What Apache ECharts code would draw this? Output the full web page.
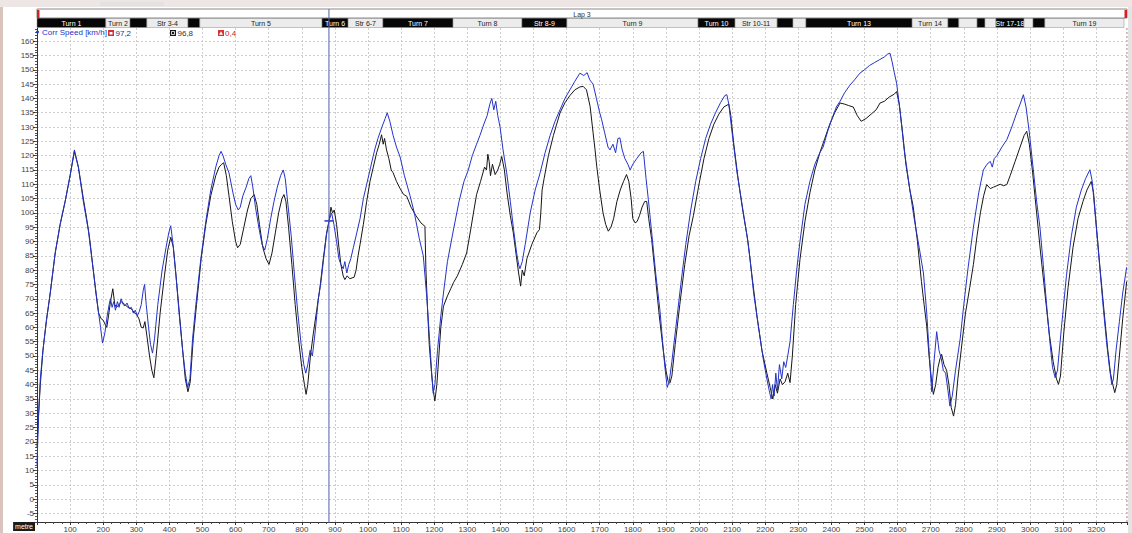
<!DOCTYPE html>
<html>
<head>
<meta charset="utf-8">
<title>Corr Speed – Lap 3</title>
<script src="https://cdn.jsdelivr.net/npm/echarts@6/dist/echarts.min.js"></script>
<style>
  html, body { margin: 0; padding: 0; background: #ffffff; }
  #chart { width: 1132px; height: 533px; }
</style>
</head>
<body>
<div id="chart"></div>
<script>
// Current lap speed trace: [distance m, speed km/h]
const lapPoints = [
  [0,12],[5,30],[10,42],[18,52],[28,62],[40,72],[55,86],[70,96],[85,104],[100,113],[113,122],
  [125,116],[140,104],[155,94],[170,80],[185,66],[192,60],[198,54.5],[205,58],[212,64],[218,68],
  [222,70],[227,67],[232,69],[237,66],[243,69],[248,67],[254,70],[260,68],[266,67.5],[272,68.5],
  [279,66.5],[285,67],[291,65],[297,66],[303,64],[309,65.5],[315,68],[321,73],[325,75],[330,68],
  [337,60],[343,54],[349,51],[355,56],[365,68],[378,80],[390,88],[398,93],[404,95.5],[410,90],
  [420,78],[430,64],[440,52],[448,44],[455,39],[462,42],[470,56],[480,68],[495,84],[510,97],
  [525,108],[540,116],[550,120],[556,121.5],[562,120],[570,117],[580,114],[592,107],[600,103],
  [608,101],[614,102],[622,106],[632,109],[640,112],[646,113],[652,109],[660,102],[670,95],
  [680,89],[688,87],[696,91],[706,98],[716,104],[726,109],[736,113],[744,115],[750,112],[758,103],
  [768,92],[778,78],[788,65],[798,54],[806,47],[812,44],[818,47],[825,52],[832,50],[840,58],
  [850,70],[858,76],[866,84],[874,92],[882,97.2],[890,100],[897,96],[905,90],[912,84],[918,82],
  [925,80.5],[930,83],[936,79],[942,82],[948,84],[956,88],[966,93],[976,98],[986,105],[996,110],
  [1008,116],[1020,122],[1030,126],[1042,130],[1052,133],[1058,135],[1066,132],[1076,127],
  [1086,123],[1097,119.5],[1110,113],[1127,106],[1140,100],[1155,91],[1167,85],[1178,70],
  [1187,54],[1193,43],[1197,37],[1202,40],[1210,52],[1220,64],[1228,72],[1240,83],[1258,94],
  [1275,104],[1290,111],[1303,115],[1315,120],[1328,124],[1338,127],[1350,131],[1360,134],
  [1368,138],[1374,140],[1380,136],[1386,139],[1392,134],[1399,130],[1408,122],[1419,114],
  [1430,104],[1440,94],[1449,86],[1455,82],[1459,80.5],[1466,83],[1475,89],[1490,100],[1505,108],
  [1520,114],[1535,121],[1550,127],[1565,132],[1580,136],[1595,140],[1610,143],[1625,146],
  [1640,148.8],[1652,148],[1662,149],[1670,146.5],[1680,145],[1690,140],[1700,135],[1706,132.5],
  [1715,128],[1725,123],[1731,122],[1740,124],[1748,121],[1755,126],[1761,126.2],[1768,122],
  [1776,119],[1785,117],[1792,115],[1800,117],[1812,119],[1825,121],[1832,121.5],[1840,112],
  [1847,104.6],[1858,92],[1870,78],[1882,66],[1890,55],[1897,46],[1904,39],[1910,41],[1918,48],
  [1930,60],[1945,75],[1960,89],[1975,101],[1990,111],[2005,119],[2020,126],[2035,131],[2050,135],
  [2065,138.5],[2078,141],[2084,141.3],[2090,138],[2100,128],[2115,114],[2130,103],[2145,92],
  [2154,84],[2165,72],[2180,60],[2194,49],[2205,42],[2212,38],[2218,35],[2222,40],[2227,36],
  [2232,44],[2237,38],[2243,47],[2250,42],[2256,48],[2262,46],[2268,50],[2275,55],[2285,68],
  [2295,80],[2305,90],[2320,103],[2335,111],[2350,117],[2365,121],[2375,123],[2390,129],[2405,134],
  [2415,137],[2426,139],[2440,142],[2455,144.5],[2470,146.5],[2486,148.8],[2500,150],[2515,151.5],
  [2530,152.5],[2545,153.5],[2560,154.5],[2570,155.5],[2577,155.8],[2583,153],[2590,149],
  [2597,145.3],[2608,135],[2620,122],[2637,108],[2650,98],[2665,88],[2678,79],[2688,65],[2696,50],
  [2703,37.5],[2710,48],[2718,58.5],[2725,52],[2732,49],[2738,45],[2745,44],[2752,38],[2758,32.5],
  [2765,36],[2775,45],[2789,56],[2800,68],[2812,80],[2829,95],[2845,107],[2859,115],[2870,117],
  [2880,118],[2886,116],[2892,119],[2900,120],[2915,123],[2930,125.6],[2945,130],[2960,135],
  [2970,138],[2980,141.3],[2988,137],[2998,128],[3010,115],[3020,104],[3030,95],[3040,82],
  [3050,68],[3060,55],[3068,46],[3076,42.4],[3083,45],[3095,60],[3110,78],[3125,92],[3140,102],
  [3155,108],[3168,112],[3181,115.1],[3188,111],[3198,98],[3210,82],[3222,66],[3232,54],[3240,46],
  [3247,40],[3252,42],[3260,52],[3270,62],[3280,72],[3292,81]
];

// Reference lap speed trace: [distance m, speed km/h]
const refPoints = [
  [0,18],[5,30],[10,40],[18,52],[28,62],[40,72],[55,86],[70,96],[85,104],[100,113],[113,121.5],
  [125,116],[140,105],[150,98],[158,92],[168,82],[178,72],[186,65],[194,63],[200,62.5],[206,61],
  [211,60],[216,64],[222,69],[229,73.5],[235,68],[240,67],[248,68],[256,69],[265,68],[275,67],
  [285,66.5],[295,65],[301,64.5],[308,63],[315,60],[321,59.8],[326,62],[332,57],[340,50],[347,45],
  [353,42.4],[360,50],[372,65],[385,78],[395,87],[404,91.5],[412,88],[420,78],[430,65],[440,52],
  [448,42],[456,37.5],[463,41],[472,56],[482,68],[496,84],[510,96],[525,106],[540,113],[550,116],
  [558,117],[564,117.5],[572,113],[580,106],[590,97],[600,90],[606,87.8],[614,89],[625,95],
  [636,101],[646,105],[656,106.4],[664,103],[672,96],[682,88],[692,84],[701,82],[710,86],[720,93],
  [730,100],[740,105],[746,106.4],[752,104],[760,95],[770,82],[780,68],[790,56],[800,46],[808,40],
  [813,36.6],[818,40],[826,50],[835,58],[845,66],[855,74],[865,84],[875,93],[882,96.8],[888,102],
  [893,100],[898,101],[905,96],[912,88],[918,82],[925,78],[930,76.7],[937,78],[945,77],[952,77.3],
  [958,77.5],[964,80],[970,85],[976,89],[986,96],[996,104],[1006,111],[1016,116],[1026,121],
  [1034,124],[1041,127.3],[1046,124],[1050,126],[1056,122],[1063,119],[1070,115],[1076,114],
  [1086,111],[1097,108.5],[1107,106.5],[1117,105.8],[1130,102],[1145,99],[1160,96.5],[1172,95.3],
  [1175,80],[1180,66],[1185,54],[1192,44],[1197,38],[1202,34.3],[1208,40],[1214,50],[1220,60],
  [1228,67.4],[1240,71],[1250,73.5],[1258,75.6],[1270,78],[1285,82],[1298,86],[1310,94],[1320,101],
  [1328,106.4],[1340,111],[1352,116],[1358,115],[1362,120.5],[1366,118],[1370,113],[1376,117],
  [1384,113.4],[1392,115],[1398,117],[1404,119.7],[1412,115],[1420,107],[1430,99],[1439,93],
  [1448,85],[1455,79],[1461,74.4],[1466,80],[1472,78],[1480,84],[1495,89],[1510,93],[1518,94.2],
  [1522,100],[1526,108],[1532,112],[1545,120],[1560,127],[1570,131],[1580,134.9],[1595,138.5],
  [1610,141],[1625,143],[1640,144],[1650,144.2],[1660,143],[1671,137.2],[1680,128],[1686,122],
  [1691,116.3],[1700,108],[1710,100],[1718,96],[1726,93.6],[1734,95],[1742,98],[1752,104],
  [1762,108],[1772,111],[1781,113.4],[1788,111],[1795,105],[1800,98],[1807,96.5],[1813,97],
  [1820,99],[1828,102],[1836,104],[1842,104],[1848,98],[1857,90.7],[1868,78],[1880,64],[1892,52],
  [1900,45],[1907,41],[1912,40.5],[1918,43],[1928,54],[1942,68],[1957,82],[1970,92],[1983,99],
  [2000,110],[2015,119],[2030,126],[2045,131],[2060,134.5],[2075,137],[2090,138],[2096,134],
  [2105,124],[2118,112],[2132,101],[2148,90],[2160,78],[2175,64],[2190,52],[2205,44],[2215,39],
  [2223,35],[2230,40],[2237,37],[2245,42],[2252,40],[2260,41],[2268,44],[2275,40.7],[2282,50],
  [2292,68],[2305,83.7],[2320,97],[2335,107],[2350,115],[2365,121],[2380,126],[2395,131],[2410,135],
  [2426,138.4],[2440,138],[2452,137.5],[2466,137],[2478,134],[2490,132],[2505,133],[2520,134.5],
  [2535,136],[2547,138.4],[2560,139],[2575,140.5],[2590,141.5],[2597,142.4],[2605,138],[2615,128],
  [2625,117],[2637,108],[2647,102.3],[2660,90],[2672,76],[2680,68],[2688,60.4],[2695,50],[2702,42],
  [2708,36.6],[2715,40],[2722,46],[2728,49],[2733,50.6],[2740,47],[2748,45],[2755,40],[2762,32],
  [2769,29],[2775,33],[2782,42],[2792,52],[2805,65],[2818,74],[2829,82],[2840,92],[2850,100],
  [2860,106],[2869,109.9],[2880,108.5],[2890,109],[2900,109.5],[2910,110],[2920,109.5],[2930,109.9],
  [2940,113],[2955,118],[2970,123],[2982,127],[2990,128.5],[2998,124],[3008,114],[3020,100],
  [3032,86],[3045,72],[3058,58],[3070,48],[3080,42],[3086,40.1],[3092,43],[3102,58],[3115,74],
  [3130,88],[3145,98],[3160,104],[3172,108],[3185,111],[3192,107],[3200,96],[3212,80],[3225,64],
  [3235,52],[3243,44],[3250,40],[3256,37.2],[3262,40],[3270,50],[3280,63],[3292,76]
];

// Track sections along the lap (metres)
const segStart = [0, 208, 281, 332, 456, 492, 861, 940, 1045, 1257, 1465, 1601, 1997, 2109, 2236, 2284, 2323, 2644, 2752, 2785, 2840, 2864, 2897, 2982, 3009, 3045];
const segEnd   = [208, 281, 332, 456, 492, 861, 940, 1045, 1257, 1465, 1601, 1997, 2109, 2236, 2284, 2323, 2644, 2752, 2785, 2840, 2864, 2897, 2982, 3009, 3045, 3284];
const segName  = ['Turn 1', 'Turn 2', '', 'Str 3-4', '', 'Turn 5', 'Turn 6', 'Str 6-7', 'Turn 7', 'Turn 8', 'Str 8-9', 'Turn 9', 'Turn 10', 'Str 10-11', '', '', 'Turn 13', 'Turn 14', '', '', '', '', 'Str 17-18', '', '', 'Turn 19'];
const segDark  = [1, 0, 1, 0, 1, 0, 1, 0, 1, 0, 1, 0, 1, 0, 1, 0, 1, 0, 1, 0, 1, 0, 1, 0, 1, 0];

const lapName = 'Lap 3';
const lapLength = 3293;
const cursorDist = 882;

// Axis tick values
const yTickValues = [-5, 0, 5, 10, 15, 20, 25, 30, 35, 40, 45, 50, 55, 60, 65, 70, 75, 80, 85, 90, 95, 100, 105, 110, 115, 120, 125, 130, 135, 140, 145, 150, 155, 160];
const yMin = -8, yMax = 164.6;
const yMinorValues = [];
for (let v = -8; v <= 164; v++) yMinorValues.push(v);

const FONT = '"Liberation Sans", Arial, sans-serif';
const BLUE = '#2433c8';

const valueAt = (pts, d) => pts.find(p => p[0] === d)[1];
const lapAtCursor = valueAt(lapPoints, cursorDist);
const refAtCursor = valueAt(refPoints, cursorDist);
const fmt = v => v.toFixed(1).replace('.', ',');

const segData = segStart.map((s, i) => [s, segEnd[i], segDark[i]]);

const chart = echarts.init(document.getElementById('chart'), null, { renderer: 'svg' });

const hiddenX = idx => ({ type: 'value', gridIndex: idx, min: 0, max: lapLength, show: false });
const hiddenY = idx => ({ type: 'value', gridIndex: idx, min: 0, max: 1, show: false });

chart.setOption({
  animation: false,
  textStyle: { fontFamily: FONT },
  grid: [
    { left: 37, right: 5, top: 28, bottom: 10 },          // speed plot
    { left: 37, right: 5, top: 18, height: 9.5 },         // track sections
    { left: 37, right: 5, top: 9, height: 9 },            // lap bar
    { left: 37, right: 5, top: 9, bottom: 10 }            // cursor
  ],
  legend: {
    left: 36, top: 28, padding: 0,
    itemWidth: 3, itemHeight: 3, itemGap: 4,
    data: [{ name: 'Corr Speed [km/h]', icon: 'circle' }],
    textStyle: { color: BLUE, fontSize: 8, fontFamily: FONT, padding: [0, 0, 0, -2] }
  },
  xAxis: [
    {
      type: 'value', gridIndex: 0, min: 0, max: lapLength, interval: 100,
      axisLine: { onZero: false, lineStyle: { color: '#333', width: 1 } },
      axisTick: { length: 3, lineStyle: { color: '#333' } },
      minorTick: { show: true, splitNumber: 4, length: 2, lineStyle: { color: '#444' } },
      axisLabel: { fontSize: 8, color: '#444', margin: 3, showMinLabel: false, showMaxLabel: false,
                   formatter: v => String(v) },
      splitLine: { lineStyle: { color: '#cdcdcd', type: [2, 2], width: 1 } },
      name: 'metre', nameLocation: 'start', nameGap: 2,
      nameTextStyle: {
        color: '#fff', backgroundColor: '#1c1c1c', fontSize: 7, fontFamily: FONT,
        padding: [1, 2, 1, 2], align: 'right', verticalAlign: 'top'
      }
    },
    hiddenX(1), hiddenX(2), hiddenX(3)
  ],
  yAxis: [
    {
      type: 'value', gridIndex: 0, min: yMin, max: yMax,
      axisLine: { show: true, onZero: false, lineStyle: { color: '#333', width: 1 } },
      axisTick: { show: true, customValues: yTickValues, length: 4, lineStyle: { color: '#333' } },
      axisLabel: { customValues: yTickValues, fontSize: 8, color: '#444', margin: 3,
                   formatter: v => String(v) },
      splitLine: { show: true, lineStyle: { color: '#cdcdcd', type: [2, 2], width: 1 } }
    },
    {
      type: 'value', gridIndex: 0, min: yMin, max: yMax, position: 'left', offset: 0,
      axisLine: { show: false, onZero: false },
      axisTick: { show: true, customValues: yMinorValues, length: 2, lineStyle: { color: '#555' } },
      axisLabel: { show: false },
      splitLine: { show: false }
    },
    hiddenY(1), hiddenY(2), hiddenY(3)
  ],
  series: [
    {
      name: 'Reference lap', type: 'line', xAxisIndex: 0, yAxisIndex: 0,
      data: refPoints, showSymbol: false, z: 2,
      lineStyle: { color: '#161616', width: 1 }, itemStyle: { color: '#161616' }
    },
    {
      name: 'Corr Speed [km/h]', type: 'line', xAxisIndex: 0, yAxisIndex: 0,
      data: lapPoints, showSymbol: false, z: 3,
      lineStyle: { color: BLUE, width: 1 }, itemStyle: { color: BLUE },
      markPoint: {
        silent: true, symbol: 'rect', symbolSize: [9, 1.5],
        itemStyle: { color: BLUE }, label: { show: false },
        data: [{ coord: [cursorDist, lapAtCursor] }]
      }
    },
    {
      type: 'custom', xAxisIndex: 1, yAxisIndex: 2, z: 5, silent: true,
      data: segData,
      renderItem: (params, api) => {
        const p0 = api.coord([api.value(0), 1]);
        const p1 = api.coord([api.value(1), 0]);
        const dark = api.value(2) === 1;
        return {
          type: 'group',
          children: [
            { type: 'rect', shape: { x: p0[0], y: p0[1], width: p1[0] - p0[0], height: p1[1] - p0[1] },
              style: { fill: dark ? '#070707' : '#ececec', stroke: '#8c8c8c', lineWidth: 0.5 } },
            { type: 'text',
              style: { text: segName[params.dataIndex], x: (p0[0] + p1[0]) / 2, y: (p0[1] + p1[1]) / 2 + 0.5,
                       align: 'center', verticalAlign: 'middle', fill: dark ? '#ffffff' : '#222222',
                       fontSize: 7, fontFamily: FONT } }
          ]
        };
      }
    },
    {
      type: 'custom', xAxisIndex: 2, yAxisIndex: 3, z: 5, silent: true,
      data: [[0, lapLength]],
      renderItem: (params, api) => {
        const p0 = api.coord([api.value(0), 1]);
        const p1 = api.coord([api.value(1), 0]);
        const h = p1[1] - p0[1];
        return {
          type: 'group',
          children: [
            { type: 'rect', shape: { x: p0[0], y: p0[1], width: p1[0] - p0[0], height: h },
              style: { fill: '#ffffff', stroke: '#6a6a6a', lineWidth: 0.8 } },
            { type: 'rect', shape: { x: p0[0], y: p0[1] + 1, width: 2.5, height: h - 1 }, style: { fill: '#d42222' } },
            { type: 'rect', shape: { x: p1[0] - 2.5, y: p0[1] + 1, width: 2.5, height: h - 1 }, style: { fill: '#d42222' } },
            { type: 'text',
              style: { text: lapName, x: (p0[0] + p1[0]) / 2, y: p0[1] + h / 2 + 0.5, align: 'center',
                       verticalAlign: 'middle', fill: '#333', fontSize: 7, fontFamily: FONT } }
          ]
        };
      }
    },
    {
      type: 'custom', xAxisIndex: 3, yAxisIndex: 4, z: 6, silent: true,
      data: [[cursorDist]],
      renderItem: (params, api) => {
        const top = api.coord([api.value(0), 1]);
        const bottom = api.coord([api.value(0), 0]);
        return {
          type: 'line',
          shape: { x1: top[0], y1: top[1], x2: bottom[0], y2: bottom[1] },
          style: { stroke: '#4f5fae', lineWidth: 1 }
        };
      }
    }
  ],
  graphic: [
    // window frame
    { type: 'rect', left: 0, top: 0, shape: { width: 1132, height: 7 }, style: { fill: '#ede6e4' }, silent: true },
    { type: 'rect', left: 100, top: 2, shape: { width: 64, height: 4 }, style: { fill: '#e2e2e2' }, silent: true },
    { type: 'rect', left: 0, top: 7, shape: { width: 3, height: 526 }, style: { fill: '#d9c4bd' }, silent: true },
    { type: 'rect', left: 1128, top: 7, shape: { width: 4, height: 526 }, style: { fill: '#e4e4e4' }, silent: true },
    { type: 'line', shape: { x1: 1127, y1: 28, x2: 1127, y2: 523 },
      style: { stroke: '#b46a6a', lineWidth: 1, lineDash: [2, 2] }, silent: true },
    // cursor readouts
    { type: 'group', left: 108, top: 29, silent: true, children: [
      { type: 'rect', shape: { x: 0, y: 0, width: 6, height: 6 }, style: { fill: '#d63030' } },
      { type: 'rect', shape: { x: 1.5, y: 2, width: 3, height: 2.5 }, style: { fill: '#ffffff' } },
      { type: 'text', x: 7.5, y: 3, style: { text: fmt(lapAtCursor), fill: '#2d2f8a', fontSize: 8, fontFamily: FONT, verticalAlign: 'middle' } }
    ] },
    { type: 'group', left: 169, top: 29, silent: true, children: [
      { type: 'rect', shape: { x: 0, y: 0, width: 6, height: 6 }, style: { fill: '#1a1a1a' } },
      { type: 'rect', shape: { x: 1.5, y: 1.5, width: 3, height: 3 }, style: { fill: 'none', stroke: '#ffffff', lineWidth: 0.8 } },
      { type: 'text', x: 7.5, y: 3, style: { text: fmt(refAtCursor), fill: '#333333', fontSize: 8, fontFamily: FONT, verticalAlign: 'middle' } }
    ] },
    { type: 'group', left: 218, top: 29, silent: true, children: [
      { type: 'rect', shape: { x: 0, y: 0, width: 6, height: 6 }, style: { fill: '#d63030' } },
      { type: 'polygon', shape: { points: [[3, 1.2], [5, 4.8], [1, 4.8]] }, style: { fill: '#ffffff' } },
      { type: 'text', x: 7, y: 3, style: { text: fmt(lapAtCursor - refAtCursor), fill: '#c42424', fontSize: 8, fontFamily: FONT, verticalAlign: 'middle' } }
    ] }
  ]
});
</script>
</body>
</html>
